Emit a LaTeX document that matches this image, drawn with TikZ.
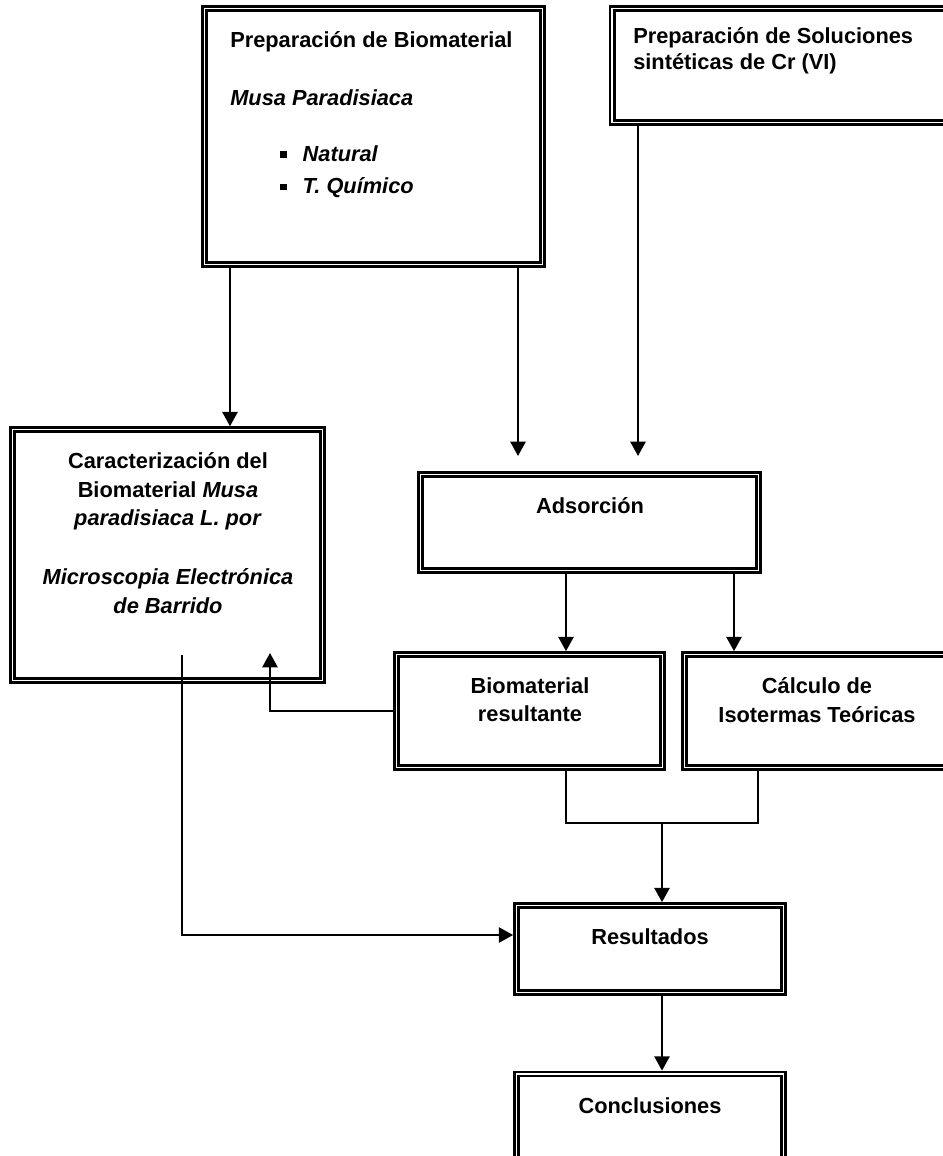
\documentclass[tikz,border=0pt]{standalone}
\usepackage{fontspec}
\setmainfont{Liberation Sans}
\usetikzlibrary{arrows.meta, positioning}

\newcommand{\cuad}{\rule[0.15em]{0.16cm}{0.16cm}}

\begin{document}
\begin{tikzpicture}[
        x=0.025cm, y=-0.025cm,
        >={Triangle[width=0.38cm, length=0.36cm]},
        caja/.style={draw, line width=1.7pt, double distance=1.3pt, outer sep=2.35pt},
        txt/.style={inner sep=0pt, font=\fontsize{15.5}{20.5}\selectfont\bfseries, align=center},
        flecha/.style={->, line width=1.6pt},
        linea/.style={line width=1.6pt}
    ]
        \useasboundingbox (0,0) rectangle (942,1156);

        % cajas de preparacion
        \node[caja, minimum width=8.45cm, minimum height=6.4cm] (prepbio) at (373.5,136.5) {};
        \node[caja, minimum width=8.63cm, minimum height=2.85cm] (prepsol) at (785,65.5) {};

        % caracterizacion y adsorcion
        \node[caja, minimum width=7.75cm, minimum height=6.27cm] (carac) at (167.5,555) {};
        \node[caja, minimum width=8.45cm, minimum height=2.4cm] (adsor) at (589.5,522.5) {};

        % productos de la adsorcion
        \node[caja, minimum width=6.65cm, minimum height=2.825cm] (biores) at (529.5,711) {};
        \node[caja, minimum width=6.625cm, minimum height=2.825cm] (calc) at (817,711) {};

        % resultados y conclusiones
        \node[caja, minimum width=6.675cm, minimum height=2.175cm] (result) at (650,949) {};
        \node[caja, minimum width=6.675cm, minimum height=2.3cm] (concl) at (650,1120) {};

        % textos
        \node[txt, anchor=north west, align=left] (prepbio-t) at (230,31)
            {Preparación de Biomaterial\\[21pt]
             \textit{Musa Paradisiaca}\\[19pt]
             \hspace*{1.25cm}\cuad\hspace{0.4cm}\textit{Natural}\\[2.5pt]
             \hspace*{1.25cm}\cuad\hspace{0.4cm}\textit{T. Químico}};
        \node[txt, anchor=north west, align=left] (prepsol-t) at (633,27)
            {Preparación de Soluciones\\[-1.5pt] sintéticas de Cr (VI)};
        \node[txt, anchor=north] (carac-t) at (168,452)
            {Caracterización del\\ Biomaterial \textit{Musa}\\ \textit{paradisiaca L. por}\\[21pt]
             \textit{Microscopia Electrónica}\\ \textit{de Barrido}};
        \node[txt, anchor=north] (adsor-t) at (590,497) {Adsorción};
        \node[txt, anchor=north] (biores-t) at (530,677) {Biomaterial\\ resultante};
        \node[txt, anchor=north] (calc-t) at (817,677) {Cálculo de\\ Isotermas Teóricas};
        \node[txt, anchor=north] (result-t) at (650,928) {Resultados};
        \node[txt, anchor=north] (concl-t) at (650,1097) {Conclusiones};

        % abscisas de los conectores
        \coordinate (xa) at (230,0);
        \coordinate (xb) at (518,0);
        \coordinate (xc) at (638,0);
        \coordinate (xd) at (566,0);
        \coordinate (xe) at (734,0);
        \coordinate (xf) at (758,0);
        \coordinate (yres) at (0,935);
        \coordinate (carin) at (270,653);
        \coordinate (carout) at (182,655);
        \coordinate (union) at (662,823);

        % flechas desde preparacion
        \draw[flecha] (prepbio.south -| xa) -- (carac.north -| xa);
        \draw[flecha, shorten >=0.38cm] (prepbio.south -| xb) -- (adsor.north -| xb);
        \draw[flecha, shorten >=0.38cm] (prepsol.south -| xc) -- (adsor.north -| xc);

        % salidas de adsorcion
        \draw[flecha] (adsor.south -| xd) -- (biores.north -| xd);
        \draw[flecha] (adsor.south -| xe) -- (calc.north -| xe);

        % retorno a caracterizacion y paso a resultados
        \draw[flecha] (biores.west) -| (carin);
        \draw[flecha] (carout) |- (result.west |- yres);

        % union hacia resultados
        \draw[linea] (biores.south -| xd) |- (union) -| (calc.south -| xf);
        \draw[flecha] (union) -- (result.north -| union);
        \draw[flecha] (result.south -| union) -- (concl.north -| union);

    \end{tikzpicture}
\end{document}
